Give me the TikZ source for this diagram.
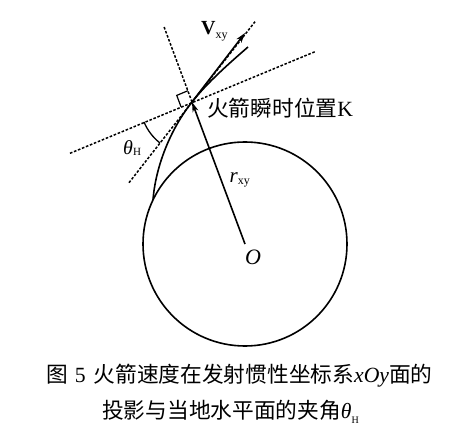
\documentclass[tikz,border=0pt]{standalone}
\usepackage{fontspec}
\setmainfont{Liberation Serif}
\newfontfamily\cjk{Noto Sans CJK SC}
\usetikzlibrary{arrows.meta,calc}
\begin{document}
\begin{tikzpicture}[x=1pt,y=-1pt,
  solidline/.style={line width=1.6pt},
  dashline/.style={line width=1.5pt, dash pattern=on 2.6pt off 1.7pt},
  arr/.style={-{Stealth[length=10pt,width=6pt,inset=3pt]}},
  lbl/.style={inner sep=0pt, anchor=base west},
  big/.style={font=\fontsize{21.7}{24}\selectfont}]
\useasboundingbox (0,0) rectangle (460,435);
\fill[white] (0,0) rectangle (460,435);
% key points
\coordinate (O) at (245,244);
\coordinate (K) at (192,102);
\coordinate (H1) at (70,153.3);
\coordinate (H2) at (315,51.7);
\coordinate (D1) at (129,182.7);
\coordinate (D2) at (255,21.7);
\coordinate (U) at (164,26.7);
\coordinate (V) at (245,33);
\coordinate (A) at (153,200);
\coordinate (E) at (248,47);
% earth circle
\draw[solidline] (O) circle[radius=102];
% dashed lines
\draw[dashline] (H1) -- (H2);
\draw[dashline] (D1) -- (D2);
\draw[dashline] (K) -- (U);
% right angle mark
\coordinate (Ra) at ($(K)!12pt!(U)$);
\coordinate (Rb) at ($(K)!12pt!(H1)$);
\coordinate (Rc) at ($(Ra)+(Rb)-(K)$);
\draw[line width=1.2pt] (Ra) -- (Rc) -- (Rb);
% trajectory
\draw[solidline] (A) .. controls (155.5,167) and (170.2,129.4) .. (K)
  .. controls (207.5,82.4) and (229,63.5) .. (E);
% radius vector and velocity
\draw[solidline,arr] (O) -- (K);
\draw[solidline,arr] (K) -- (V);
% angle arc
\draw[line width=1.3pt] ($(K)+(128:52)$) arc[start angle=128, end angle=157.5, radius=52];
% labels
\node[lbl] (lv) at (201,35) {\fontsize{20}{22}\selectfont\textbf{V}\raisebox{-4pt}{\fontsize{12}{12}\selectfont xy}};
\node[lbl] (lth) at (123,155) {\fontsize{20}{22}\selectfont\itshape θ\raisebox{-1pt}{\upshape\fontsize{11}{11}\selectfont H}};
\node[lbl] (lr) at (229.5,183) {\fontsize{21}{22}\selectfont\itshape r\raisebox{-2pt}{\upshape\fontsize{12}{12}\selectfont xy}};
\node[lbl] (lo) at (245,265) {\fontsize{22}{22}\selectfont\itshape O};
\node[inner sep=0pt, anchor=west, big] (lk) at (207,108) {\cjk 火箭瞬时位置\rmfamily K};
% caption
\node[inner sep=0pt, anchor=west, big] (c1) at (46,376)
  {\cjk 图\hspace{7pt}\rmfamily 5\hspace{8pt}\cjk 火箭速度在发射惯性坐标系\rmfamily\itshape xOy\upshape\cjk 面的};
\node[inner sep=0pt, anchor=west, big] (c2) at (102,412)
  {\cjk 投影与当地水平面的夹角\rmfamily\itshape θ\raisebox{-5pt}{\upshape\fontsize{10}{10}\selectfont H}};
\end{tikzpicture}
\end{document}
